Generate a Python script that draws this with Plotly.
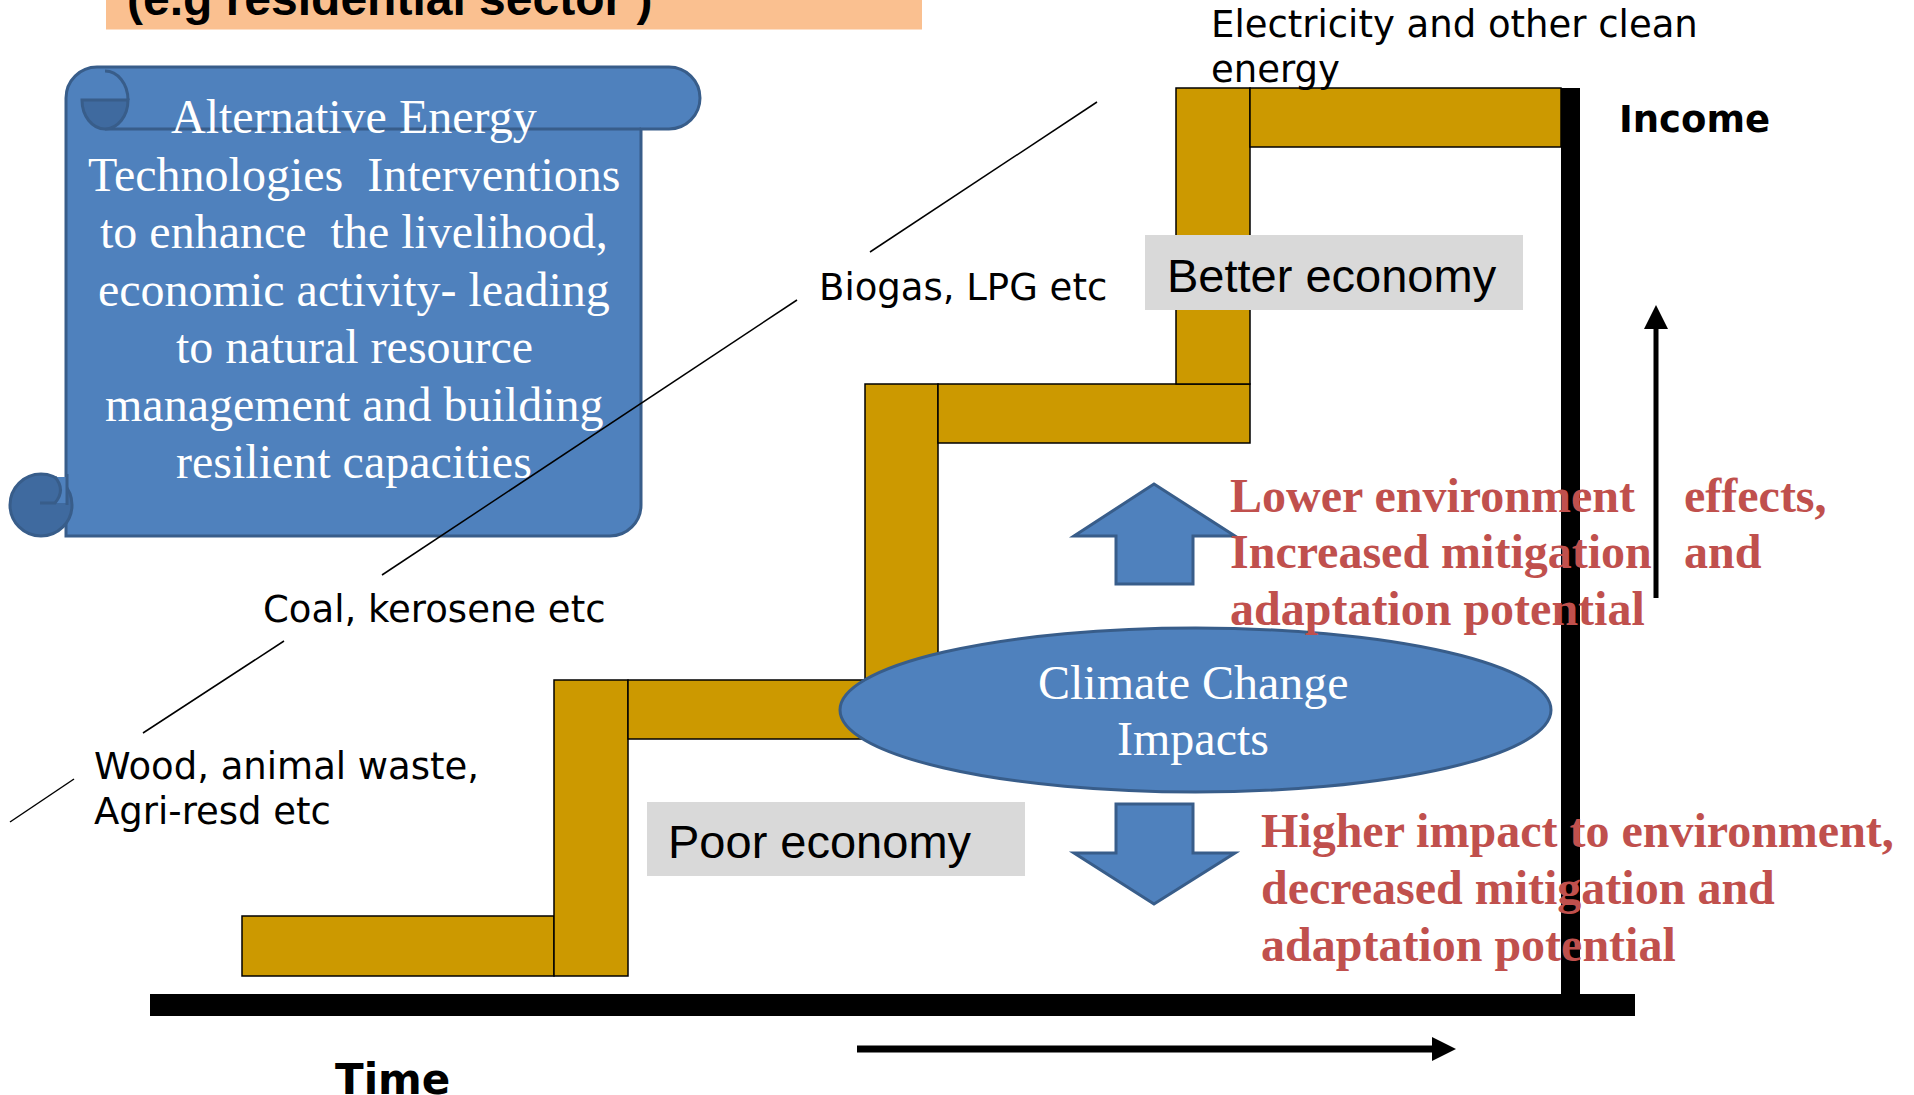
import math
import plotly.graph_objects as go

# Diagram: energy ladder vs. income / time, drawn in pixel units (1 data unit = 1 px)
W, H = 1914, 1095

# staircase of fuel choices, one rectangle per piece (bottom step -> top step)
step_x0 = [242, 554, 628, 865, 938, 1176, 1250]
step_x1 = [554, 628, 938, 938, 1250, 1250, 1561]
step_y0 = [916, 680, 680, 384, 384, 88, 88]
step_y1 = [976, 976, 739, 680, 443, 384, 147]

# thin leader lines between the fuel labels
lead_x0 = [1097, 797, 284, 74]
lead_y0 = [102, 300, 641, 779]
lead_x1 = [870, 382, 143, 10]
lead_y1 = [252, 575, 733, 822]

# fuel labels
fuel_text = ["Electricity and other clean", "energy", "Biogas, LPG etc",
             "Coal, kerosene etc", "Wood, animal waste,", "Agri-resd etc"]
fuel_x = [1209, 1209, 817, 261, 92, 92]
fuel_y = [24, 69, 287, 609, 766, 811]

# scroll text
scroll_text = ["Alternative Energy", "Technologies  Interventions",
               "to enhance  the livelihood,", "economic activity- leading",
               "to natural resource", "management and building",
               "resilient capacities"]
scroll_y = [116.5, 174, 231.5, 289, 346.5, 404, 461.5]

# red outcome texts
upper_left = ["Lower environment", "Increased mitigation", "adaptation potential"]
upper_right = ["effects,", "and", ""]
upper_y = [495, 551.5, 608.5]
lower_text = ["Higher impact to environment,", "decreased mitigation and",
              "adaptation potential"]
lower_y = [830, 887, 944]

climate_text = ["Climate Change", "Impacts"]
climate_y = [682.5, 738.5]

BLUE = "#4F81BD"
BLUE_LINE = "#385D8A"
BLUE_DARK = "#3F6A9F"
GOLD = "#CC9900"
RED = "#C0504D"
GREY_BOX = "#D9D9D9"
PEACH = "#FAC090"


def arc(cx, cy, rx, ry, a0, a1):
    # cubic bezier approximation of an elliptical arc (angles in degrees, y down)
    out = ""
    n = max(1, int(math.ceil(abs(a1 - a0) / 90.0)))
    step = (a1 - a0) / n
    for i in range(n):
        t1 = math.radians(a0 + i * step)
        t2 = math.radians(a0 + (i + 1) * step)
        k = 4.0 / 3.0 * math.tan((t2 - t1) / 4.0)
        p0 = (cx + rx * math.cos(t1), cy + ry * math.sin(t1))
        p3 = (cx + rx * math.cos(t2), cy + ry * math.sin(t2))
        p1 = (p0[0] - k * rx * math.sin(t1), p0[1] + k * ry * math.cos(t1))
        p2 = (p3[0] + k * rx * math.sin(t2), p3[1] - k * ry * math.cos(t2))
        out += " C %.1f,%.1f %.1f,%.1f %.1f,%.1f" % (p1 + p2 + p3)
    return out


shapes = []

# title banner
shapes.append(dict(type="rect", x0=106, x1=922, y0=-5, y1=29.5,
                   fillcolor=PEACH, line=dict(width=0)))

# scroll body
body = ("M 66,536 L 66,98" + arc(97, 98, 31, 31, 180, 270) +
        " L 669,67" + arc(669, 98, 31, 31, 270, 450) +
        " L 641,129 L 641,505" + arc(610, 505, 31, 31, 0, 90) + " L 66,536 Z")
shapes.append(dict(type="path", path=body, fillcolor=BLUE,
                   line=dict(color=BLUE_LINE, width=3)))
# top roll lower edge
shapes.append(dict(type="line", x0=105, x1=641, y0=129, y1=129,
                   line=dict(color=BLUE_LINE, width=3)))
# top curl
curl = "M 128,100" + arc(105, 100, 23, 29, 0, 180) + " Z"
shapes.append(dict(type="path", path=curl, fillcolor=BLUE_DARK,
                   line=dict(color=BLUE_LINE, width=3)))
shapes.append(dict(type="path", path="M 105,71" + arc(105, 100, 23, 29, 270, 360),
                   line=dict(color=BLUE_LINE, width=3)))
# bottom curl
shapes.append(dict(type="circle", x0=10, x1=72, y0=474, y1=536,
                   fillcolor=BLUE_DARK, line=dict(color=BLUE_LINE, width=3)))
shapes.append(dict(type="path", path="M 66,477 L 55,477 Q 66,490 55,503 L 66,503 Z",
                   fillcolor=BLUE, line=dict(width=0)))
shapes.append(dict(type="path", path="M 55,477 Q 66,490 55,503 L 40,503",
                   line=dict(color=BLUE_LINE, width=3)))
shapes.append(dict(type="line", x0=67, x1=67, y0=474, y1=505,
                   line=dict(color=BLUE_LINE, width=3)))

# staircase
for x0, x1, y0, y1 in zip(step_x0, step_x1, step_y0, step_y1):
    shapes.append(dict(type="rect", x0=x0, x1=x1, y0=y0, y1=y1,
                       fillcolor=GOLD, line=dict(color="black", width=1.5)))

# axes bars
shapes.append(dict(type="rect", x0=150, x1=1635, y0=994, y1=1016,
                   fillcolor="black", line=dict(width=0)))
shapes.append(dict(type="rect", x0=1561, x1=1580, y0=88, y1=1016,
                   fillcolor="black", line=dict(width=0)))

# leader lines
for xa, ya, xb, yb in zip(lead_x0, lead_y0, lead_x1, lead_y1):
    shapes.append(dict(type="line", x0=xa, y0=ya, x1=xb, y1=yb,
                       line=dict(color="black", width=1.5)))

# label boxes
shapes.append(dict(type="rect", x0=1145, x1=1523, y0=235, y1=310,
                   fillcolor=GREY_BOX, line=dict(width=0)))
shapes.append(dict(type="rect", x0=647, x1=1025, y0=802, y1=876,
                   fillcolor=GREY_BOX, line=dict(width=0)))

# climate change ellipse
shapes.append(dict(type="circle", x0=840, x1=1551, y0=628, y1=792,
                   fillcolor=BLUE, line=dict(color=BLUE_LINE, width=3)))

# block arrows up / down
up = "M 1154,484 L 1235,536 L 1193,536 L 1193,584 L 1116,584 L 1116,536 L 1074,536 Z"
down = "M 1116,804 L 1193,804 L 1193,853 L 1235,853 L 1154,904 L 1074,853 L 1116,853 Z"
for p in (up, down):
    shapes.append(dict(type="path", path=p, fillcolor=BLUE,
                       line=dict(color=BLUE_LINE, width=3)))

# income arrow
shapes.append(dict(type="line", x0=1656, x1=1656, y0=598, y1=326,
                   line=dict(color="black", width=5)))
shapes.append(dict(type="path", path="M 1644,329 L 1668,329 L 1656,305 Z",
                   fillcolor="black", line=dict(width=0)))
# time arrow
shapes.append(dict(type="line", x0=857, x1=1436, y0=1049, y1=1049,
                   line=dict(color="black", width=7)))
shapes.append(dict(type="path", path="M 1432,1037 L 1432,1061 L 1456,1049 Z",
                   fillcolor="black", line=dict(width=0)))

ann = []


def label(x, y, text, size, family, color="black", anchor="left", bold=False, **kw):
    ann.append(dict(x=x, y=y, text=("<b>%s</b>" % text) if bold else text,
                    showarrow=False, xanchor=anchor, yanchor="middle",
                    font=dict(size=size, family=family, color=color), **kw))


label(389.5, 0, "(e.g residential sector )", 48, "Liberation Sans",
      anchor="center", bold=True, yshift=2)

for t, y in zip(scroll_text, scroll_y):
    label(354, y, t, 48, "Liberation Serif", color="white", anchor="center")

for t, x, y in zip(fuel_text, fuel_x, fuel_y):
    label(x, y, t, 37, "DejaVu Sans")

label(1165, 275, "Better economy", 47, "Liberation Sans")
label(666, 841, "Poor economy", 47, "Liberation Sans")

for t, y in zip(climate_text, climate_y):
    label(1193, y, t, 48, "Liberation Serif", color="white", anchor="center")

for tl, tr, y in zip(upper_left, upper_right, upper_y):
    label(1228, y, tl, 48, "Liberation Serif", color=RED, bold=True)
    if tr:
        label(1682, y, tr, 48, "Liberation Serif", color=RED, bold=True)
for t, y in zip(lower_text, lower_y):
    label(1259, y, t, 48, "Liberation Serif", color=RED, bold=True)

label(1617, 119.5, "Income", 37, "DejaVu Sans", bold=True)
label(333, 1079, "Time", 42, "DejaVu Sans", bold=True)

fig = go.Figure()
fig.update_layout(
    width=W, height=H,
    margin=dict(l=0, r=0, t=0, b=0),
    paper_bgcolor="white", plot_bgcolor="white",
    xaxis=dict(range=[0, W], visible=False, fixedrange=True),
    yaxis=dict(range=[H, 0], visible=False, fixedrange=True),
    shapes=shapes, annotations=ann, showlegend=False, hovermode=False,
)

# drop the browser's default body margin so the drawing sits at the page corner
fig.write_html("out.html", config={"displayModeBar": False},
               post_script="document.body.style.margin='0';")
